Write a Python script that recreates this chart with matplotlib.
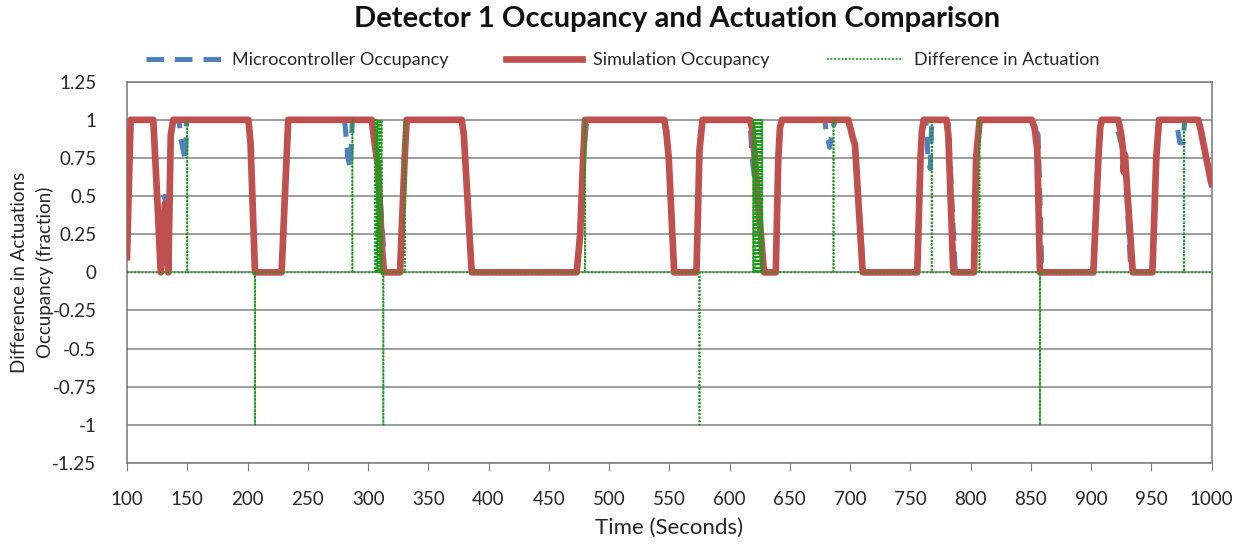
import numpy as np
import matplotlib
matplotlib.use('Agg')
import matplotlib.pyplot as plt

# simulation occupancy breakpoints (time s, fraction)
sim_time = [100, 103, 121.8, 125, 128, 131.5, 134.3, 136.3, 138.4,
            200.7, 202.5, 206.2, 228.3, 231, 233.8,
            303, 306.6, 308, 312.7, 326.5, 330.4, 332,
            377.7, 379.5, 386, 473.1, 476, 478.5, 480,
            545.8, 547.5, 549.5, 554, 572.5, 575, 577.5,
            617, 619, 628.5, 638.3, 640.4, 641.8, 643.5,
            698.5, 702.6, 704, 710.4, 755.7, 758.4, 759.5, 761,
            780, 781.5, 785.6, 802.8, 804.5, 807.5,
            850.6, 853, 855.3, 857.5, 901.8, 906, 907.5, 908.8,
            922.5, 925, 926.5, 927, 928, 934.5, 950.8, 954, 956.3,
            988.9, 991, 999.2, 1000]
sim_occ = [0.1, 1, 1, 0.5, 0, 0.45, 0, 0.9, 1,
           1, 0.85, 0, 0, 0.5, 1,
           1, 0.78, 0.72, 0, 0, 0.75, 1,
           1, 0.9, 0, 0, 0.25, 0.75, 1,
           1, 0.92, 0.75, 0, 0, 0.8, 1,
           1, 0.93, 0, 0, 0.75, 0.95, 1,
           1, 0.87, 0.84, 0, 0, 0.75, 0.92, 1,
           1, 0.9, 0, 0, 0.75, 1,
           1, 0.95, 0.8, 0, 0, 0.75, 0.95, 1,
           1, 0.9, 0.8, 0.66, 0.77, 0, 0, 0.75, 1,
           1, 0.93, 0.6, 0.58]

# microcontroller occupancy breakpoints
mc_time = [100, 103, 121.8, 125, 128, 131.5, 134.3, 136.3, 138.4,
           142, 143.5, 144.5, 148.5, 149.5,
           200.7, 202.5, 206.2, 228.3, 231, 233.8,
           280.5, 282.5, 283, 285.3, 287,
           303, 306.6, 308, 312.5, 313.3, 313.8, 326.5, 330.4, 332,
           377.7, 379.5, 386, 473.1, 476, 478.5, 481, 482,
           545.8, 547.5, 549.5, 554, 572.5, 575, 577.5,
           617, 618.5, 620, 628.5, 638.3, 640.4, 641.8, 643.5,
           679, 680, 683, 686, 688,
           698.5, 702.6, 704, 709, 711, 755.7, 758.4, 759.5, 761,
           762.5, 763.5, 764.5, 766.5, 767.7,
           780, 781.5, 787, 788, 802.8, 804.5, 807.5,
           851, 856, 858.5, 859, 901.8, 906, 907.5, 908.8,
           919.5, 921, 926.5, 928, 932.5, 934, 950.8, 954, 956.3,
           970, 971.5, 973.5, 976.5, 977.5, 988.9, 991, 999.2, 1000]
mc_occ = [0.2, 1, 1, 0.5, 0, 0.5, 0, 0.9, 1,
          1, 0.97, 0.88, 0.73, 1,
          1, 0.85, 0, 0, 0.55, 1,
          1, 0.83, 0.76, 0.68, 1,
          1, 0.78, 0.72, 0.2, 0.05, 0, 0, 0.75, 1,
          1, 0.9, 0, 0, 0.25, 0.75, 0.96, 1,
          1, 0.92, 0.75, 0, 0, 0.8, 1,
          1, 0.76, 0.66, 0, 0, 0.75, 0.95, 1,
          1, 0.93, 0.82, 0.96, 1,
          1, 0.87, 0.84, 0.25, 0, 0, 0.75, 0.92, 1,
          1, 0.95, 0.76, 0.68, 1,
          1, 0.97, 0.04, 0, 0, 0.75, 1,
          1, 0.9, 0.2, 0, 0, 0.75, 0.95, 1,
          1, 0.96, 0.8, 0.72, 0.06, 0, 0, 0.75, 1,
          1, 0.95, 0.85, 0.85, 1, 1, 0.93, 0.6, 0.58]

# actuation difference spikes
diff_time = [150, 206.2, 287, 306, 307.4, 308.8, 310.1, 311.3,
             312.7, 330.4, 480, 575,
             619.6, 621.1, 622.6, 624.1, 625.6, 627.1,
             686.2, 767.7, 807.3, 857.5, 977]
diff_val = [1, -1, 1, 1, 1, 1, 1, 1,
            -1, 1, 1, -1,
            1, 1, 1, 1, 1, 1,
            1, 1, 1, -1, 1]

t_grid = np.round(np.arange(100, 1000.05, 0.1), 1)
diff = np.zeros_like(t_grid)
for t, v in zip(diff_time, diff_val):
    diff[np.argmin(np.abs(t_grid - t))] = v

plt.rcParams['font.family'] = ['Lato', 'DejaVu Sans']
txt = '#262626'

fig = plt.figure(figsize=(12.45, 5.46), dpi=100)
ax = fig.add_axes([127 / 1245, 1 - 463 / 546, (1211.7 - 127) / 1245, (463 - 81.7) / 546])

ax.plot(mc_time, mc_occ, color='#4F81BD', lw=3.6, ls=(0, (3.5, 2.2)),
        label='Microcontroller Occupancy', zorder=3)
ax.plot(sim_time, sim_occ, color='#C0504D', lw=4.8, solid_joinstyle='round',
        label='Simulation Occupancy', zorder=4)
ax.plot(t_grid, diff, color='#1E9A1E', lw=1.3, ls=(0, (1, 1)),
        label='Difference in Actuation', zorder=5)

ax.set_xlim(100, 1000)
ax.set_ylim(-1.25, 1.25)
ax.set_xticks(np.arange(100, 1001, 50))
ax.set_yticks(np.arange(-1.25, 1.26, 0.25))
ax.set_yticklabels(['-1.25', '-1', '-0.75', '-0.5', '-0.25', '0', '0.25', '0.5',
                    '0.75', '1', '1.25'])
ax.grid(axis='y', color='#8C8C8C', lw=1.2)
ax.set_axisbelow(True)
for s in ax.spines.values():
    s.set_color('#808080')
    s.set_linewidth(1.2)
ax.tick_params(axis='x', direction='out', length=6, color='#808080', pad=14,
               labelsize=13.5, labelcolor=txt)
ax.tick_params(axis='y', direction='out', length=0, pad=22,
               labelsize=13.5, labelcolor=txt)

fig.text(0.537, 1 - 528 / 546, 'Time (Seconds)', ha='center', va='center',
         fontsize=16, color=txt)
fig.text(0.026, 0.502, 'Difference in Actuations\nOccupancy (fraction)', rotation=90,
         ha='center', va='center', multialignment='center', fontsize=13.5,
         color=txt, linespacing=1.5)
fig.text(0.544, 1 - 19 / 546, 'Detector 1 Occupancy and Actuation Comparison',
         ha='center', va='center', fontsize=21, fontweight='bold', color='#111111')

fig.legend(loc='center', bbox_to_anchor=(0.5, 1 - 60 / 546), ncol=3, frameon=False,
           fontsize=13, handlelength=4.2, handletextpad=0.6, columnspacing=3.2,
           labelcolor=txt)

fig.savefig('out.png', dpi=100)
